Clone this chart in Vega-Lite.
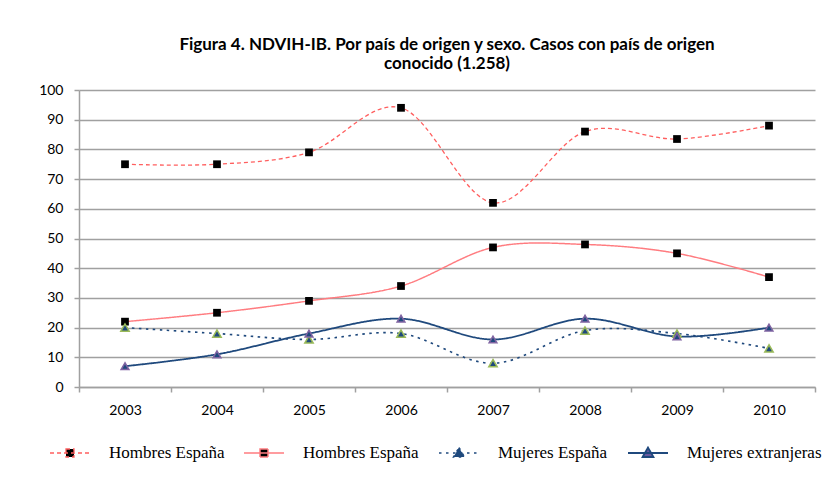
{
  "$schema": "https://vega.github.io/schema/vega-lite/v6.json",
  "width": 736,
  "height": 297,
  "autosize": "none",
  "padding": {"left": 79, "top": 90, "right": 15, "bottom": 102},
  "background": "white",
  "title": {
    "text": ["Figura 4. NDVIH-IB. Por país de origen y sexo. Casos con país de origen", "conocido (1.258)"],
    "font": "Lato",
    "fontSize": 17,
    "fontWeight": "bold",
    "color": "#000000",
    "lineHeight": 19,
    "anchor": "middle",
    "offset": 10
  },
  "config": {
    "view": {"stroke": null},
    "axis": {"labelFont": "Lato", "labelFontSize": 14, "labelColor": "#000000", "titleFont": "Lato"}
  },
  "data": {
    "values": [
      {"year": "2003", "serie": "Hombres España", "casos": 75},
      {"year": "2004", "serie": "Hombres España", "casos": 75},
      {"year": "2005", "serie": "Hombres España", "casos": 79},
      {"year": "2006", "serie": "Hombres España", "casos": 94},
      {"year": "2007", "serie": "Hombres España", "casos": 62},
      {"year": "2008", "serie": "Hombres España", "casos": 86},
      {"year": "2009", "serie": "Hombres España", "casos": 83.5},
      {"year": "2010", "serie": "Hombres España", "casos": 88},
      {"year": "2003", "serie": "Hombres extranjeros", "casos": 22},
      {"year": "2004", "serie": "Hombres extranjeros", "casos": 25},
      {"year": "2005", "serie": "Hombres extranjeros", "casos": 29},
      {"year": "2006", "serie": "Hombres extranjeros", "casos": 34},
      {"year": "2007", "serie": "Hombres extranjeros", "casos": 47},
      {"year": "2008", "serie": "Hombres extranjeros", "casos": 48},
      {"year": "2009", "serie": "Hombres extranjeros", "casos": 45},
      {"year": "2010", "serie": "Hombres extranjeros", "casos": 37},
      {"year": "2003", "serie": "Mujeres España", "casos": 20},
      {"year": "2004", "serie": "Mujeres España", "casos": 18},
      {"year": "2005", "serie": "Mujeres España", "casos": 16},
      {"year": "2006", "serie": "Mujeres España", "casos": 18},
      {"year": "2007", "serie": "Mujeres España", "casos": 8},
      {"year": "2008", "serie": "Mujeres España", "casos": 19},
      {"year": "2009", "serie": "Mujeres España", "casos": 18},
      {"year": "2010", "serie": "Mujeres España", "casos": 13},
      {"year": "2003", "serie": "Mujeres extranjeras", "casos": 7},
      {"year": "2004", "serie": "Mujeres extranjeras", "casos": 11},
      {"year": "2005", "serie": "Mujeres extranjeras", "casos": 18},
      {"year": "2006", "serie": "Mujeres extranjeras", "casos": 23},
      {"year": "2007", "serie": "Mujeres extranjeras", "casos": 16},
      {"year": "2008", "serie": "Mujeres extranjeras", "casos": 23},
      {"year": "2009", "serie": "Mujeres extranjeras", "casos": 17},
      {"year": "2010", "serie": "Mujeres extranjeras", "casos": 20}
    ]
  },
  "encoding": {
    "x": {
      "field": "year", "type": "ordinal",
      "scale": {"paddingInner": 0, "paddingOuter": 0},
      "axis": {
        "title": null, "labelAngle": 0, "tickBand": "extent", "grid": false,
        "domainColor": "#A0A0A0", "domainWidth": 1.5, "tickColor": "#A0A0A0", "tickWidth": 1.5,
        "tickSize": 5, "labelPadding": 11
      }
    },
    "y": {
      "field": "casos", "type": "quantitative",
      "scale": {"domain": [0, 100], "nice": false},
      "axis": {
        "title": null, "values": [0,10,20,30,40,50,60,70,80,90,100],
        "gridColor": "#A0A0A0", "gridWidth": 1.5, "domainColor": "#A0A0A0", "domainWidth": 1.5,
        "tickColor": "#A0A0A0", "tickWidth": 1.5, "tickSize": 5, "labelPadding": 11
      }
    }
  },
  "layer": [
    {
      "mark": {"type": "line", "interpolate": "cardinal"},
      "encoding": {
        "color": {
          "field": "serie", "type": "nominal",
          "scale": {"domain": ["Hombres España", "Hombres extranjeros", "Mujeres España", "Mujeres extranjeras"],
                    "range": ["#FF5F5F", "#FF7C80", "#1F497D", "#1F497D"]},
          "legend": {
            "title": null, "orient": "none", "direction": "horizontal", "columns": 4,
            "legendX": -30, "legendY": 342,
            "symbolSize": 1600, "symbolStrokeWidth": 1.6, "symbolOpacity": 1,
            "labelFont": "Liberation Serif", "labelFontSize": 17, "labelColor": "#000000",
            "labelOffset": 18, "columnPadding": 16,
            "labelExpr": "datum.label == 'Hombres extranjeros' ? 'Hombres España' : datum.label",
            "encode": {
              "symbols": {
                "update": {
                  "shape": {"signal": "indexof(['Mujeres España','Mujeres extranjeras'], datum.value) >= 0 ? 'M-1,0H1M0,-0.27L0.27,0.2H-0.27Z' : 'M-1,0H1M-0.2,-0.2H0.2V0.2H-0.2Z'"},
                  "fill": {"signal": "datum.value == 'Mujeres España' ? '#1F497D' : datum.value == 'Mujeres extranjeras' ? '#6B5A9E' : '#000000'"},
                  "strokeDash": {"signal": "datum.value == 'Hombres España' ? [4,3] : datum.value == 'Mujeres España' ? [2.5,4] : [1,0]"},
                  "strokeWidth": {"signal": "datum.value == 'Mujeres España' ? 2.8 : 1.6"},
                  "size": {"value": 1600},
                  "opacity": {"value": 1}
                }
              }
            }
          }
        },
        "strokeDash": {
          "field": "serie", "type": "nominal", "legend": null,
          "scale": {"domain": ["Hombres España", "Hombres extranjeros", "Mujeres España", "Mujeres extranjeras"],
                    "range": [[4, 3], [1, 0], [2.5, 4.5], [1, 0]]}
        },
        "strokeWidth": {
          "field": "serie", "type": "nominal", "legend": null,
          "scale": {"domain": ["Hombres España", "Hombres extranjeros", "Mujeres España", "Mujeres extranjeras"],
                    "range": [1.3, 1.8, 3, 1.5]}
        }
      }
    },
    {
      "transform": [{"filter": "datum.serie == 'Hombres España' || datum.serie == 'Hombres extranjeros'"}],
      "mark": {"type": "square", "filled": true, "color": "#000000", "size": 60, "opacity": 1}
    },
    {
      "transform": [{"filter": "datum.serie == 'Mujeres España'"}],
      "mark": {"type": "point", "shape": "triangle-up", "filled": true, "fill": "#1F497D", "stroke": "#9BBB59", "strokeWidth": 1.5, "size": 70, "opacity": 1}
    },
    {
      "transform": [{"filter": "datum.serie == 'Mujeres extranjeras'"}],
      "mark": {"type": "point", "shape": "triangle-up", "filled": true, "fill": "#1F497D", "stroke": "#8064A2", "strokeWidth": 1.5, "size": 60, "opacity": 1}
    }
  ]
}
